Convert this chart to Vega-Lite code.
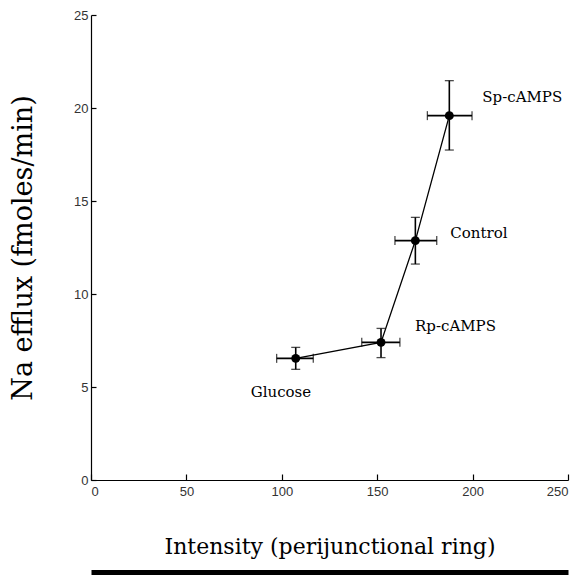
{
  "$schema": "https://vega.github.io/schema/vega-lite/v6.json",
  "width": 477,
  "height": 465,
  "autosize": "none",
  "padding": {"left": 91, "top": 15, "right": 16, "bottom": 96},
  "background": "white",
  "config": {
    "view": {"stroke": null},
    "axis": {
      "grid": false,
      "domainColor": "black",
      "domainWidth": 1.2,
      "tickColor": "black",
      "tickWidth": 1.2,
      "labelFont": "Liberation Sans",
      "labelFontSize": 13,
      "labelColor": "#333333",
      "titleFont": "DejaVu Serif",
      "titleFontWeight": "normal",
      "titleColor": "black"
    }
  },
  "data": {
    "values": [
      {"condition": "Glucose", "intensity": 107.3, "int_lo": 97.3, "int_hi": 116.5, "efflux": 6.54, "eff_lo": 5.95, "eff_hi": 7.13},
      {"condition": "Rp-cAMPS", "intensity": 152.0, "int_lo": 141.9, "int_hi": 161.9, "efflux": 7.4, "eff_lo": 6.58, "eff_hi": 8.15},
      {"condition": "Control", "intensity": 170.0, "int_lo": 159.3, "int_hi": 181.2, "efflux": 12.87, "eff_lo": 11.61, "eff_hi": 14.12},
      {"condition": "Sp-cAMPS", "intensity": 187.8, "int_lo": 176.3, "int_hi": 199.7, "efflux": 19.59, "eff_lo": 17.74, "eff_hi": 21.47}
    ]
  },
  "resolve": {"axis": {"x": "independent"}},
  "layer": [
    {
      "encoding": {
        "x": {
          "field": "intensity",
          "type": "quantitative",
          "scale": {"domain": [0, 250], "nice": false, "zero": true},
          "axis": {
            "values": [0, 50, 100, 150, 200, 250],
            "tickSize": -6,
            "labelPadding": 11,
            "title": "Intensity (perijunctional ring)",
            "titleFontSize": 22,
            "titlePadding": 38
          }
        },
        "y": {
          "field": "efflux",
          "type": "quantitative",
          "scale": {"domain": [0, 25], "nice": false, "zero": true},
          "axis": {
            "values": [0, 5, 10, 15, 20, 25],
            "tickSize": -5,
            "labelPadding": 8,
            "title": "Na efflux (fmoles/min)",
            "titleFontSize": 27,
            "titlePadding": 36
          }
        }
      },
      "layer": [
        {
          "mark": {"type": "line", "color": "black", "strokeWidth": 1.3},
          "encoding": {"order": {"field": "intensity", "type": "quantitative"}}
        },
        {
          "mark": {"type": "rule", "color": "black", "strokeWidth": 1.6},
          "encoding": {
            "x": {"field": "int_lo", "type": "quantitative"},
            "x2": {"field": "int_hi"}
          }
        },
        {
          "mark": {"type": "rule", "color": "black", "strokeWidth": 1.6},
          "encoding": {
            "y": {"field": "eff_lo", "type": "quantitative"},
            "y2": {"field": "eff_hi"}
          }
        },
        {
          "mark": {"type": "tick", "color": "black", "orient": "vertical", "size": 9, "thickness": 1.3},
          "encoding": {"x": {"field": "int_lo", "type": "quantitative"}}
        },
        {
          "mark": {"type": "tick", "color": "black", "orient": "vertical", "size": 9, "thickness": 1.3},
          "encoding": {"x": {"field": "int_hi", "type": "quantitative"}}
        },
        {
          "mark": {"type": "tick", "color": "black", "orient": "horizontal", "size": 9, "thickness": 1.3},
          "encoding": {"y": {"field": "eff_lo", "type": "quantitative"}}
        },
        {
          "mark": {"type": "tick", "color": "black", "orient": "horizontal", "size": 9, "thickness": 1.3},
          "encoding": {"y": {"field": "eff_hi", "type": "quantitative"}}
        },
        {
          "mark": {"type": "point", "shape": "circle", "filled": true, "color": "black", "opacity": 1, "size": 80}
        },
        {
          "transform": [{"filter": "datum.condition === 'Sp-cAMPS'"}],
          "mark": {"type": "text", "font": "DejaVu Serif", "fontSize": 15, "align": "left", "baseline": "middle", "dx": 33, "dy": -19, "color": "black"},
          "encoding": {"text": {"field": "condition"}}
        },
        {
          "transform": [{"filter": "datum.condition === 'Control'"}],
          "mark": {"type": "text", "font": "DejaVu Serif", "fontSize": 15, "align": "left", "baseline": "middle", "dx": 35, "dy": -8, "color": "black"},
          "encoding": {"text": {"field": "condition"}}
        },
        {
          "transform": [{"filter": "datum.condition === 'Rp-cAMPS'"}],
          "mark": {"type": "text", "font": "DejaVu Serif", "fontSize": 15, "align": "left", "baseline": "middle", "dx": 34, "dy": -16, "color": "black"},
          "encoding": {"text": {"field": "condition"}}
        },
        {
          "transform": [{"filter": "datum.condition === 'Glucose'"}],
          "mark": {"type": "text", "font": "DejaVu Serif", "fontSize": 15, "align": "left", "baseline": "middle", "dx": -45, "dy": 34, "color": "black"},
          "encoding": {"text": {"field": "condition"}}
        }
      ]
    },
    {
      "mark": {"type": "point", "opacity": 0},
      "encoding": {
        "x": {
          "field": "intensity",
          "type": "quantitative",
          "axis": {
            "orient": "bottom",
            "offset": 92,
            "domainWidth": 5,
            "domainColor": "black",
            "ticks": false,
            "labels": false,
            "title": null
          }
        }
      }
    }
  ]
}
